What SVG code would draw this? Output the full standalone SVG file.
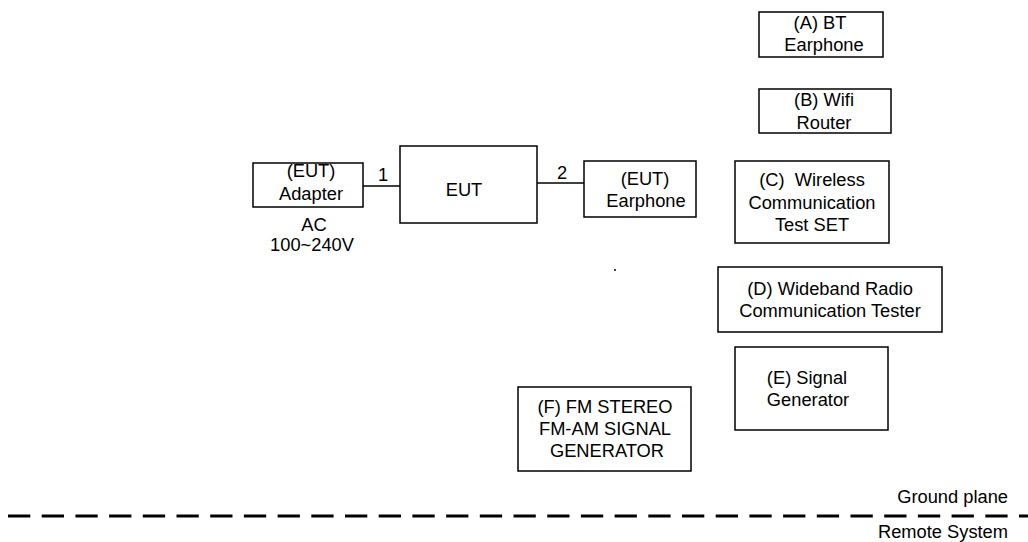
<svg xmlns="http://www.w3.org/2000/svg" width="1028" height="542" viewBox="0 0 1028 542">
<style>
.box{fill:#fff;stroke:#000;stroke-width:1.5}
.t{font-family:"Liberation Sans",Arial,sans-serif;font-size:18.3px;fill:#000;text-anchor:middle}
.wire{stroke:#000;stroke-width:1.5;fill:none}
.gp{stroke:#000;stroke-width:3;stroke-dasharray:22.3 11.4;fill:none}
</style>
<rect width="1028" height="542" fill="#fff"/>
<g id="connectors">
<line class="wire" x1="363" y1="186" x2="400" y2="186"/>
<line class="wire" x1="537" y1="183" x2="584" y2="183"/>
</g>
<g id="adapter">
<rect class="box" x="253" y="163" width="110" height="44"/>
<text class="t" x="311" y="177">(EUT)</text>
<text class="t" x="311" y="200">Adapter</text>
<text class="t" x="314" y="231">AC</text>
<text class="t" x="312" y="251">100~240V</text>
</g>
<g id="label1"><text class="t" x="383" y="181">1</text></g>
<g id="eut">
<rect class="box" x="400" y="146" width="137" height="77"/>
<text class="t" x="464" y="196">EUT</text>
</g>
<g id="label2"><text class="t" x="562" y="179">2</text></g>
<g id="earphone">
<rect class="box" x="584" y="161" width="112" height="56"/>
<text class="t" x="645" y="185">(EUT)</text>
<text class="t" x="646" y="207">Earphone</text>
</g>
<g id="nodeA">
<rect class="box" x="759" y="12" width="124" height="45"/>
<text class="t" x="820" y="29">(A) BT</text>
<text class="t" x="824" y="51">Earphone</text>
</g>
<g id="nodeB">
<rect class="box" x="759" y="89" width="132" height="44"/>
<text class="t" x="824" y="106">(B) Wifi</text>
<text class="t" x="824" y="129">Router</text>
</g>
<g id="nodeC">
<rect class="box" x="735" y="161" width="154" height="82"/>
<text class="t" x="812" y="186" xml:space="preserve">(C)  Wireless</text>
<text class="t" x="812" y="209">Communication</text>
<text class="t" x="812" y="231">Test SET</text>
</g>
<g id="nodeD">
<rect class="box" x="718" y="267" width="224" height="65"/>
<text class="t" x="830" y="295">(D) Wideband Radio</text>
<text class="t" x="830" y="317">Communication Tester</text>
</g>
<g id="nodeE">
<rect class="box" x="735" y="347" width="153" height="83"/>
<text class="t" x="807" y="384">(E) Signal</text>
<text class="t" x="808" y="406">Generator</text>
</g>
<g id="nodeF">
<rect class="box" x="518" y="387" width="173" height="84"/>
<text class="t" x="605" y="413">(F) FM STEREO</text>
<text class="t" x="605" y="435">FM-AM SIGNAL</text>
<text class="t" x="607" y="457">GENERATOR</text>
</g>
<circle cx="615" cy="270" r="1" fill="#000"/>
<g id="ground">
<line class="gp" x1="8" y1="516" x2="1028" y2="516"/>
<text class="t" x="1008" y="503" style="text-anchor:end">Ground plane</text>
<text class="t" x="1008" y="538" style="text-anchor:end">Remote System</text>
</g>
</svg>
